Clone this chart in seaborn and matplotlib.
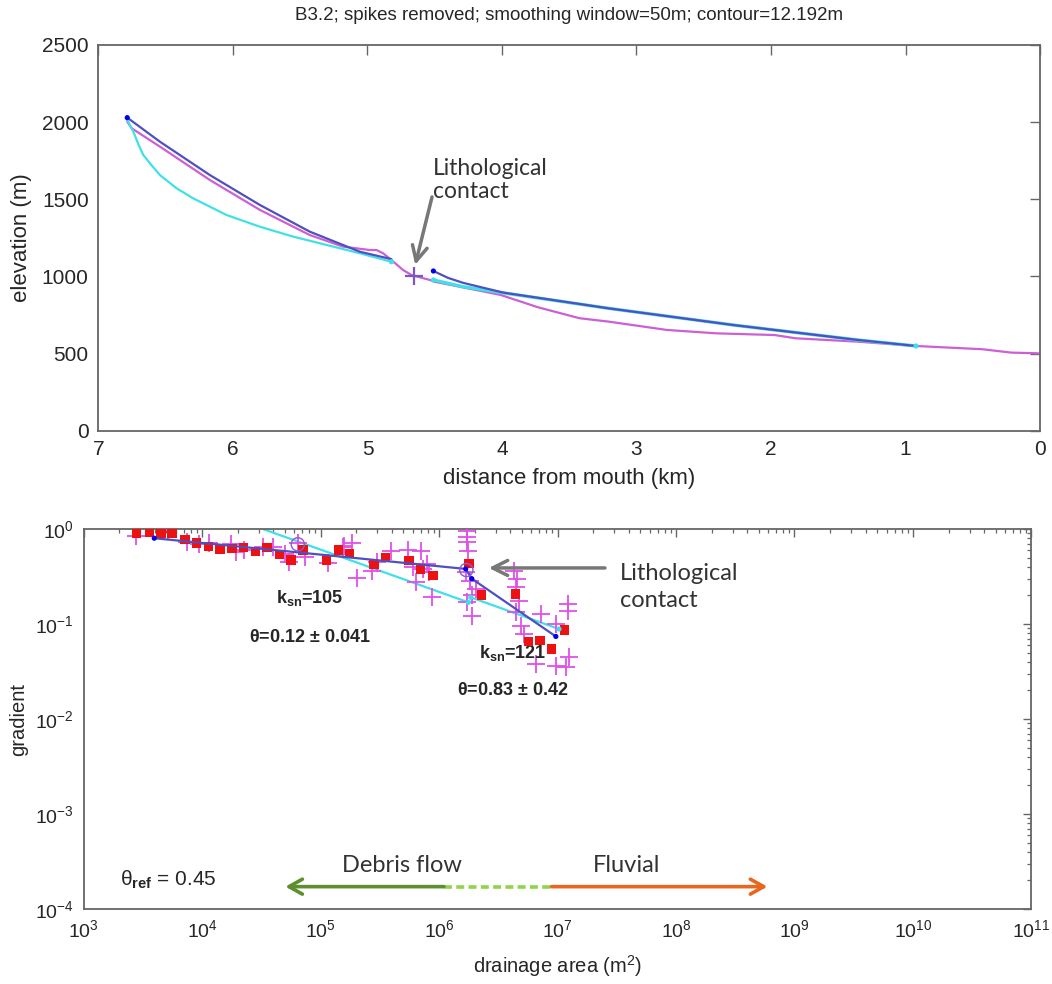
import numpy as np
import matplotlib
matplotlib.use("Agg")
import matplotlib.pyplot as plt
import seaborn as sns
from matplotlib.ticker import FixedLocator, LogLocator, NullFormatter, LogFormatterSciNotation

# ---------------- data: top panel (distance km, elevation m) ----------------
raw_km = [6.786, 6.753, 6.543, 6.172, 5.800, 5.429, 5.181, 4.983, 4.933, 4.884, 4.822,
          4.736, 4.673, 4.537, 4.504, 4.010, 3.733, 3.424, 3.207, 2.775, 2.405, 1.973,
          1.818, 1.354, 0.922, 0.429, 0.213, 0.027, 0.0]
raw_elev = [2003, 1960, 1841, 1625, 1431, 1268, 1193, 1171, 1171, 1150, 1106,
            1042, 1009, 977, 966, 880, 800, 729, 707, 653, 631, 620,
            599, 577, 549, 528, 506, 502, 500]

fit1_km = [6.786, 6.543, 6.172, 5.800, 5.429, 5.057, 4.822]
fit1_elev = [2029, 1873, 1657, 1463, 1290, 1160, 1112]
fit2_km = [4.51, 4.40, 4.288, 3.99, 3.207, 2.281, 1.354, 0.922]
fit2_elev = [1035, 990, 958, 895, 793, 685, 588, 549]

ref1_km = [6.786, 6.741, 6.700, 6.667, 6.600, 6.543, 6.419, 6.296, 6.048, 5.800, 5.553,
           5.305, 5.057, 4.822]
ref1_elev = [2014, 1938, 1850, 1787, 1715, 1657, 1571, 1506, 1398, 1322, 1258,
             1204, 1150, 1095]
ref2_km = [4.51, 4.288, 3.99, 3.207, 2.281, 1.354, 0.922]
ref2_elev = [977, 933, 893, 793, 685, 588, 549]

contact_km = [4.656]
contact_elev = [1003]

# ---------------- data: bottom panel (drainage area m2, gradient) ----------------
bin_area = [2.81e3, 3.59e3, 4.51e3, 5.57e3, 7.18e3, 9.02e3, 1.13e4, 1.42e4, 1.79e4, 2.25e4,
            2.82e4, 3.54e4, 4.53e4, 5.65e4, 7.10e4, 1.13e5, 1.42e5, 1.76e5, 2.82e5, 3.54e5,
            5.57e5, 7.00e5, 8.89e5, 1.79e6, 2.28e6, 4.45e6, 5.69e6, 7.10e6, 8.95e6, 1.15e7]
bin_grad = [0.908, 0.922, 0.908, 0.908, 0.773, 0.713, 0.657, 0.615, 0.626, 0.636,
            0.577, 0.641, 0.537, 0.472, 0.601, 0.472, 0.601, 0.555, 0.421, 0.503,
            0.464, 0.379, 0.323, 0.435, 0.202, 0.207, 0.0657, 0.0668, 0.0546, 0.0865]

pt_area = [2.77e3, 5.19e3, 7.41e3, 9.48e3, 1.15e4, 1.76e4, 1.94e4, 2.28e4, 3.26e4, 3.95e4,
           4.97e4, 5.47e4, 6.43e4, 7.33e4, 1.15e5, 1.55e5, 1.57e5, 1.85e5, 2.04e5, 2.74e5,
           3.01e5, 3.91e5, 5.51e5, 6.03e5, 6.35e5, 7.00e5, 7.33e5, 7.96e5, 8.22e5, 8.79e5,
           1.73e6, 1.73e6, 1.73e6, 1.77e6, 1.68e6, 1.82e6, 2.04e6, 1.91e6, 1.73e6, 1.91e6,
           4.31e6, 4.59e6, 4.45e6, 4.74e6, 4.45e6, 4.90e6, 5.22e6, 7.23e6, 9.68e6, 1.22e7,
           1.22e7, 1.26e7, 9.68e6, 1.17e7, 6.56e6]
pt_grad = [0.851, 0.975, 0.736, 0.695, 0.706, 0.695, 0.568, 0.601, 0.641, 0.641,
           0.546, 0.446, 0.706, 0.512, 0.436, 0.641, 0.668, 0.706, 0.303, 0.364,
           0.446, 0.592, 0.601, 0.394, 0.275, 0.592, 0.379, 0.429, 0.350, 0.191,
           0.944, 0.817, 0.724, 0.592, 0.350, 0.286, 0.233, 0.204, 0.169, 0.122,
           0.364, 0.298, 0.243, 0.176, 0.133, 0.0959, 0.0785, 0.127, 0.100, 0.163,
           0.138, 0.0446, 0.0364, 0.0350, 0.0379]

fitA_area = [3.95e3, 1.68e6, 1.89e6, 9.68e6]
fitA_grad = [0.80, 0.38, 0.30, 0.074]
refA1_area = [3.26e4, 1.77e6]
refA1_grad = [1.0, 0.169]
refA2_area = [1.85e6, 1.03e7]
refA2_grad = [0.191, 0.0886]
circ_area = [1.70e6, 6.43e4]
circ_grad = [0.37, 0.69]

x_ticks = [1e3, 1e4, 1e5, 1e6, 1e7, 1e8, 1e9, 1e10, 1e11]
y_ticks = [1e-4, 1e-3, 1e-2, 1e-1, 1e0]

# regime arrows (drainage area extents) at gradient level
debris_area = [1.10e6, 5.05e4]
trans_area = [1.10e6, 8.9e6]
fluvial_area = [8.9e6, 5.9e8]
arrow_grad = 1.72e-4

# ---------------- style ----------------
sns.set_theme(style="white")
plt.rcParams['font.family'] = ['Liberation Sans', 'DejaVu Sans']
plt.rcParams['mathtext.fontset'] = 'custom'
plt.rcParams['mathtext.rm'] = 'Liberation Sans'
plt.rcParams['mathtext.it'] = 'Liberation Sans:italic'
plt.rcParams['mathtext.bf'] = 'Liberation Sans:bold'
plt.rcParams['mathtext.default'] = 'regular'
plt.rcParams['axes.unicode_minus'] = False

C_RAW = "#cc5fd6"
C_FIT = "#4f4fbf"
C_REF = "#40e0e8"
C_DOT = "#0000ee"
C_SPINE = "#666666"
C_TXT = "#262626"
ANN = ['Lato', 'DejaVu Sans']

fig = plt.figure(figsize=(10.52, 9.84), dpi=100)
ax1 = fig.add_axes([0.0936, 0.5623, 0.8950, 0.3920])
ax2 = fig.add_axes([0.0794, 0.0762, 0.9011, 0.3862])

# ---------------- top panel ----------------
sns.lineplot(x=raw_km, y=raw_elev, ax=ax1, sort=False, estimator=None, color=C_RAW, lw=1.6)
sns.lineplot(x=ref1_km, y=ref1_elev, ax=ax1, sort=False, estimator=None, color=C_REF, lw=1.6)
sns.lineplot(x=ref2_km, y=ref2_elev, ax=ax1, sort=False, estimator=None, color=C_REF, lw=2.4)
sns.lineplot(x=fit1_km, y=fit1_elev, ax=ax1, sort=False, estimator=None, color=C_FIT, lw=1.6)
sns.lineplot(x=fit2_km, y=fit2_elev, ax=ax1, sort=False, estimator=None, color=C_FIT, lw=1.6)
ends_km = [fit1_km[0], fit2_km[0]]
ends_el = [fit1_elev[0], fit2_elev[0]]
sns.scatterplot(x=ends_km, y=ends_el, ax=ax1, color=C_DOT, s=14, edgecolor='none', zorder=5)
sns.scatterplot(x=[ref1_km[-1], ref2_km[0], ref2_km[-1]], y=[ref1_elev[-1], ref2_elev[0], ref2_elev[-1]],
                ax=ax1, color=C_REF, s=14, edgecolor='none', zorder=5)
sns.scatterplot(x=contact_km, y=contact_elev, ax=ax1, marker='+', s=160, linewidth=1.6,
                color="#7a55c8", zorder=6)

ax1.set_xlim(7, 0)
ax1.set_ylim(0, 2500)
ax1.xaxis.set_major_locator(FixedLocator([7, 6, 5, 4, 3, 2, 1, 0]))
ax1.yaxis.set_major_locator(FixedLocator([0, 500, 1000, 1500, 2000, 2500]))
ax1.set_xlabel("distance from mouth (km)", fontsize=16, color=C_TXT, labelpad=6)
ax1.set_ylabel("elevation (m)", fontsize=16, color=C_TXT, labelpad=7)
ax1.set_title("B3.2; spikes removed; smoothing window=50m; contour=12.192m",
              fontsize=13.5, color=C_TXT, pad=18)

ax1.text(4.515, 1625, "Lithological\ncontact", family=ANN, fontsize=16.5, color="#333333",
         ha='left', va='center', linespacing=1.12)
ax1.annotate("", xy=(4.645, 1075), xytext=(4.52, 1515),
             arrowprops=dict(arrowstyle="->,head_length=0.9,head_width=0.45",
                             color="#777777", lw=2.5, shrinkA=0, shrinkB=0))

# ---------------- bottom panel ----------------
ax2.set_xscale('log')
ax2.set_yscale('log')
sns.lineplot(x=refA1_area, y=refA1_grad, ax=ax2, sort=False, estimator=None, color=C_REF, lw=1.6)
sns.lineplot(x=refA2_area, y=refA2_grad, ax=ax2, sort=False, estimator=None, color=C_REF, lw=1.6)
sns.scatterplot(x=pt_area, y=pt_grad, ax=ax2, marker='+', s=150, linewidth=1.3,
                color="#e050e8", zorder=3)
sns.scatterplot(x=bin_area, y=bin_grad, ax=ax2, marker='s', s=45, color="#ee1111",
                edgecolor='none', zorder=4)
sns.lineplot(x=fitA_area, y=fitA_grad, ax=ax2, sort=False, estimator=None, color=C_FIT, lw=1.6,
             zorder=5)
sns.scatterplot(x=fitA_area, y=fitA_grad, ax=ax2, color=C_DOT, s=14, edgecolor='none', zorder=6)
sns.scatterplot(x=[refA1_area[1], refA2_area[0], refA2_area[1]],
                y=[refA1_grad[1], refA2_grad[0], refA2_grad[1]],
                ax=ax2, color=C_REF, s=14, edgecolor='none', zorder=6)
sns.scatterplot(x=circ_area, y=circ_grad, ax=ax2, marker='o', s=90, facecolor='none',
                edgecolor="#8a5cd0", linewidth=1.0, zorder=6)

ax2.set_xlim(1e3, 1e11)
ax2.set_ylim(1e-4, 1e0)
ax2.xaxis.set_major_locator(FixedLocator(x_ticks))
ax2.yaxis.set_major_locator(FixedLocator(y_ticks))
ax2.xaxis.set_major_formatter(LogFormatterSciNotation())
ax2.yaxis.set_major_formatter(LogFormatterSciNotation())
ax2.xaxis.set_minor_locator(LogLocator(base=10, subs=np.arange(2, 10), numticks=100))
ax2.yaxis.set_minor_locator(LogLocator(base=10, subs=np.arange(2, 10), numticks=100))
ax2.xaxis.set_minor_formatter(NullFormatter())
ax2.yaxis.set_minor_formatter(NullFormatter())
ax2.set_xlabel("drainage area (m$^2$)", fontsize=14.5, color=C_TXT, labelpad=9)
ax2.set_ylabel("gradient", fontsize=14.5, color=C_TXT, labelpad=5)

ax2.text(10**4.91, 10**-0.726, r"$\mathbf{k}_{sn}$=105", fontsize=13, fontweight='bold',
         color=C_TXT, ha='center', va='center')
ax2.text(10**4.91, 10**-1.137, r"$\theta$=0.12 $\pm$ 0.041", fontsize=13, fontweight='bold',
         color=C_TXT, ha='center', va='center')
ax2.text(10**6.62, 10**-1.305, r"$\mathbf{k}_{sn}$=121", fontsize=13, fontweight='bold',
         color=C_TXT, ha='center', va='center')
ax2.text(10**6.62, 10**-1.695, r"$\theta$=0.83 $\pm$ 0.42", fontsize=13, fontweight='bold',
         color=C_TXT, ha='center', va='center')
ax2.text(10**3.31, 10**-3.695, r"$\theta_{\mathbf{ref}}$ = 0.45", fontsize=15, color=C_TXT,
         ha='left', va='center')

ax2.text(10**7.527, 10**-0.611, "Lithological\ncontact", family=ANN, fontsize=17, color="#333333",
         ha='left', va='center', linespacing=1.4)
ax2.annotate("", xy=(10**6.42, 10**-0.41), xytext=(10**7.40, 10**-0.41),
             arrowprops=dict(arrowstyle="->,head_length=0.9,head_width=0.45",
                             color="#777777", lw=2.5, shrinkA=0, shrinkB=0))

# regime arrows
ax2.annotate("", xy=(debris_area[1], arrow_grad), xytext=(debris_area[0], arrow_grad),
             arrowprops=dict(arrowstyle="->,head_length=0.8,head_width=0.45",
                             color="#5e8f2e", lw=2.6, shrinkA=0, shrinkB=0))
sns.lineplot(x=trans_area, y=[arrow_grad, arrow_grad], ax=ax2, sort=False, estimator=None,
             color="#8fd44a", lw=2.6, linestyle=(0, (2.2, 1.2)))
ax2.annotate("", xy=(fluvial_area[1], arrow_grad), xytext=(fluvial_area[0], arrow_grad),
             arrowprops=dict(arrowstyle="->,head_length=0.8,head_width=0.45",
                             color="#e8671c", lw=2.6, shrinkA=0, shrinkB=0))
ax2.text(10**5.69, 10**-3.537, "Debris flow", family=ANN, fontsize=17, color="#333333",
         ha='center', va='center')
ax2.text(10**7.58, 10**-3.537, "Fluvial", family=ANN, fontsize=17, color="#333333",
         ha='center', va='center')

# ---------------- axes cosmetics ----------------
for ax in (ax1, ax2):
    for sp in ax.spines.values():
        sp.set_color(C_SPINE)
        sp.set_linewidth(1.3)
    ax.grid(False)
    if ax.get_legend() is not None:
        ax.get_legend().remove()
ax1.tick_params(which='major', direction='in', top=True, right=True, length=7, width=1.0,
                color=C_SPINE, labelsize=15, labelcolor=C_TXT, pad=7)
ax2.tick_params(which='major', direction='in', top=True, right=True, length=6, width=1.0,
                color=C_SPINE, labelsize=14, labelcolor=C_TXT, pad=7)
ax2.tick_params(which='minor', direction='in', top=True, right=True, length=3, width=0.9,
                color=C_SPINE)

fig.savefig("out.png", dpi=100, facecolor='white')
